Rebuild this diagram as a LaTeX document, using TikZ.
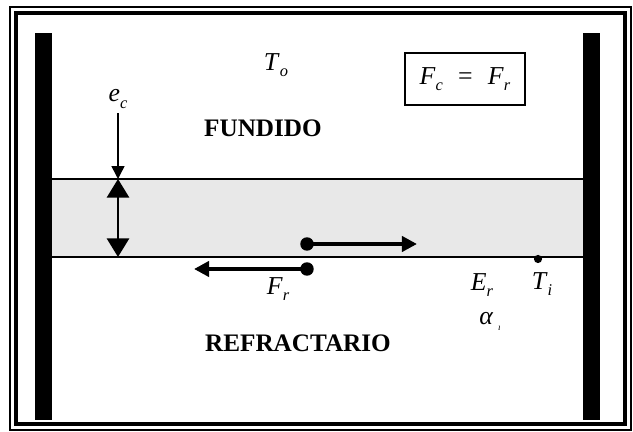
\documentclass[tikz,border=0pt]{standalone}
\usepackage{fontspec}
\setmainfont{Liberation Serif}
\usetikzlibrary{arrows.meta}
\newcommand\vsub[2]{\textit{#1}\/\raisebox{-0.55ex}{\fontsize{14}{15}\selectfont\textit{#2}}}

\begin{document}
\begin{tikzpicture}[x=0.03cm,y=-0.03cm,line width=1.6pt,
  mtext/.style={font=\fontsize{22}{26}\selectfont},
  btext/.style={font=\fontsize{21.5}{25}\selectfont\bfseries},
  punto/.style={circle,fill=black,inner sep=0pt,minimum size=#1}]
  \useasboundingbox (0,0) rectangle (633,432);
  % marco doble
  \draw[line width=1.3pt] (10,7) rectangle (631,430);
  \draw[line width=2.6pt] (16,13) rectangle (625,424);
  % paredes
  \fill (35,33) rectangle (52,420);
  \fill (583,33) rectangle (600,420);
  % capa
  \fill[black!9] (52,179) rectangle (583,257);
  \draw (52,179)--(583,179);
  \draw (52,257)--(583,257);
  \node[mtext] (To) at (276,65) {\vsub{T}{o}};
  \node[mtext,draw,line width=1.8pt,minimum width=120*0.03cm,minimum height=52*0.03cm] (bal) at (465,79)
     {\vsub{F}{c}\hspace{13pt}=\hspace{13pt}\vsub{F}{r}};
  \node[btext] (fun) at (263,128) {FUNDIDO};
  \node[btext] (ref) at (298,343) {REFRACTARIO};
  % espesor
  \node[mtext] (ec) at (118,99) {\vsub{e}{c}};
  \coordinate (c1) at (118,179);
  \coordinate (c2) at (118,257);
  \draw[-{Triangle[length=11pt,width=11pt]},line width=1.3pt] (ec.south)--(c1);
  \draw[{Triangle[length=16pt,width=19pt]}-{Triangle[length=16pt,width=19pt]},line width=2.2pt] (c1)--(c2);
  % fuerzas
  \node[punto=11.5pt] (p1) at (307,244) {};
  \node[punto=11.5pt] (p2) at (307,269) {};
  \coordinate (f1) at (417,244);
  \coordinate (f2) at (194,269);
  \draw[-{Triangle[length=13pt,width=13pt]},line width=3.6pt] (p1.center)--(f1);
  \draw[-{Triangle[length=13pt,width=13pt]},line width=3.6pt] (p2.center)--(f2);
  \node[mtext] (Fr) at (278,289) {\vsub{F}{r}};
  \node[punto=7pt] (pi) at (538,259) {};
  \node[mtext] (Ti) at (542,284) {\vsub{T}{i}};
  \node[mtext] (Er) at (482,285) {\vsub{E}{r}};
  \node[mtext] (al) at (490,321) {\textit{α}\hspace{4pt}\raisebox{-0.5ex}{\fontsize{8}{9}\selectfont\textit{ı}}};
\end{tikzpicture}
\end{document}
